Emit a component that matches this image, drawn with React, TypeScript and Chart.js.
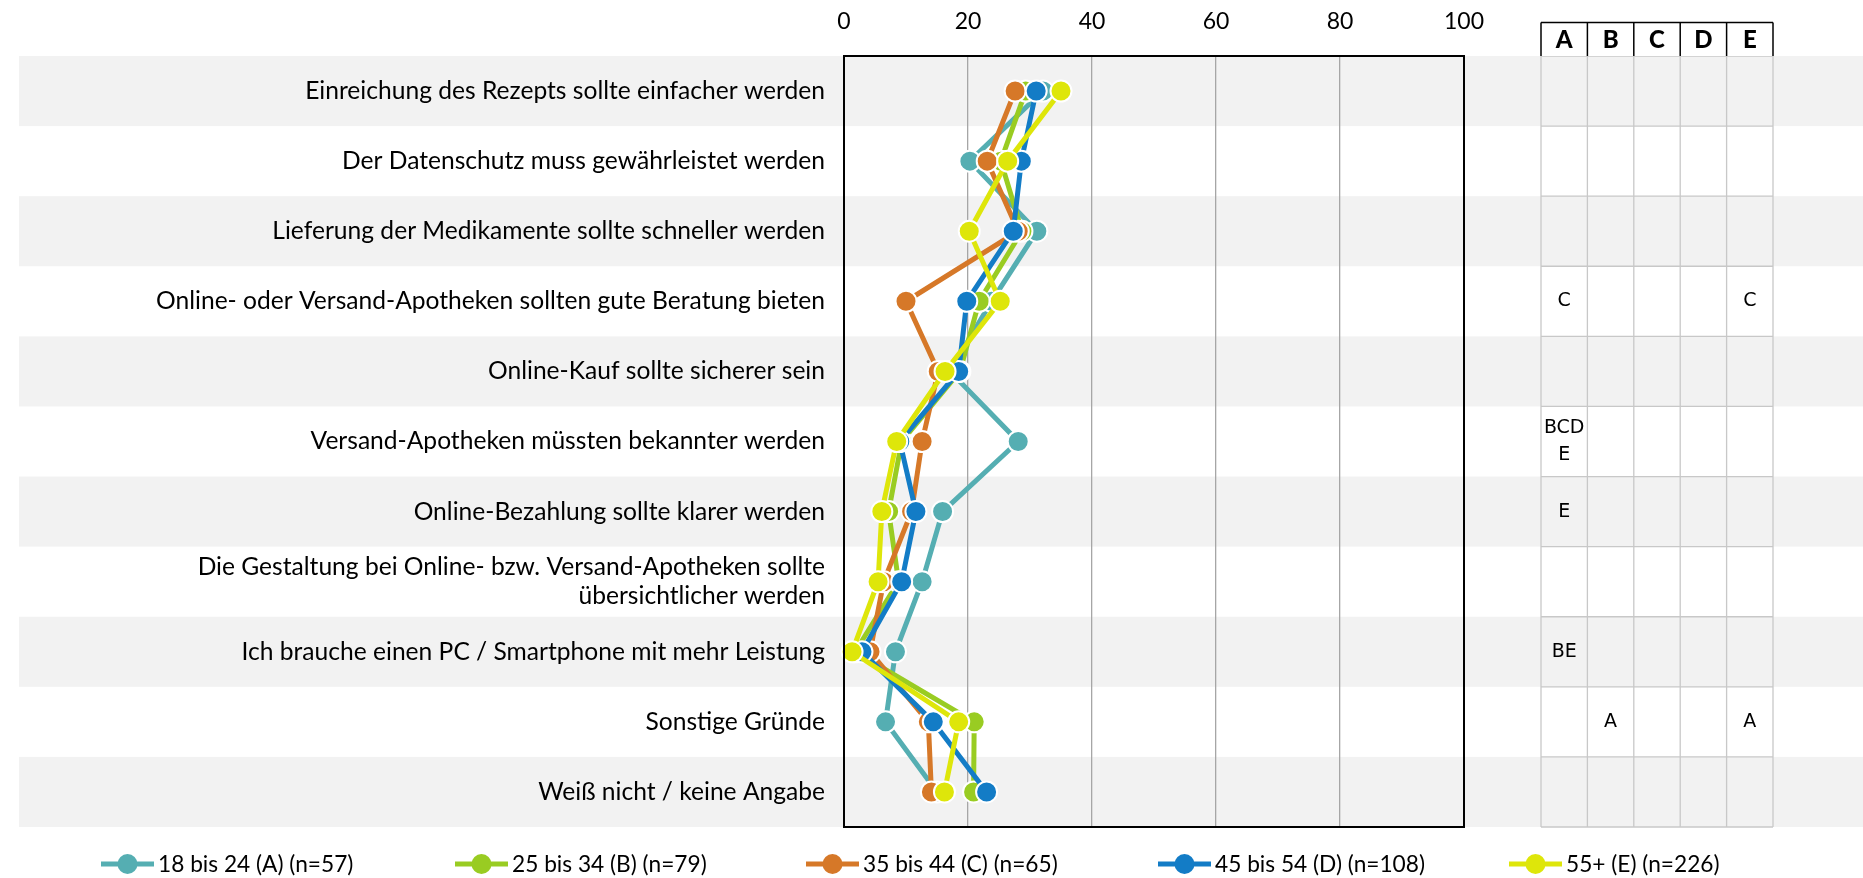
import React, { useEffect, useRef } from 'react';
import { Chart, registerables } from 'chart.js';

Chart.register(...registerables);

const categories: (string | string[])[] = [
  'Einreichung des Rezepts sollte einfacher werden',
  'Der Datenschutz muss gewährleistet werden',
  'Lieferung der Medikamente sollte schneller werden',
  'Online- oder Versand-Apotheken sollten gute Beratung bieten',
  'Online-Kauf sollte sicherer sein',
  'Versand-Apotheken müssten bekannter werden',
  'Online-Bezahlung sollte klarer werden',
  ['Die Gestaltung bei Online- bzw. Versand-Apotheken sollte', 'übersichtlicher werden'],
  'Ich brauche einen PC / Smartphone mit mehr Leistung',
  'Sonstige Gründe',
  'Weiß nicht / keine Angabe',
];

const seriesLabels = [
  '18 bis 24 (A) (n=57)',
  '25 bis 34 (B) (n=79)',
  '35 bis 44 (C) (n=65)',
  '45 bis 54 (D) (n=108)',
  '55+ (E) (n=226)',
];

const valuesA = [32.1, 20.3, 31.1, 23.8, 17.1, 28.1, 15.9, 12.6, 8.3, 6.7, 15.0];
const valuesB = [29.3, 25.3, 28.7, 21.8, 18.7, 9.3, 7.2, 8.8, 1.8, 21.0, 20.9];
const valuesC = [27.6, 23.1, 28.1, 10.0, 15.2, 12.6, 10.9, 6.4, 4.2, 13.6, 14.1];
const valuesD = [31.0, 28.6, 27.3, 19.8, 18.5, 9.0, 11.6, 9.3, 2.9, 14.4, 23.0];
const valuesE = [35.0, 26.4, 20.2, 25.2, 16.3, 8.5, 6.1, 5.5, 1.3, 18.5, 16.2];

const seriesColors = ['#55AEB2', '#99CC22', '#D67828', '#137CC6', '#DEE60A'];

const xTicks = [0, 20, 40, 60, 80, 100];

const tableHeaders = ['A', 'B', 'C', 'D', 'E'];
const tableCells: string[][] = [
  ['', '', '', '', ''],
  ['', '', '', '', ''],
  ['', '', '', '', ''],
  ['C', '', '', '', 'C'],
  ['', '', '', '', ''],
  ['BCDE', '', '', '', ''],
  ['E', '', '', '', ''],
  ['', '', '', '', ''],
  ['BE', '', '', '', ''],
  ['', 'A', '', '', 'A'],
  ['', '', '', '', ''],
];

const W = 1863;
const H = 878;
const LABEL_FONT = "Lato, 'Open Sans', sans-serif";

function wrapChars(ctx: CanvasRenderingContext2D, text: string, maxW: number): string[] {
  const lines: string[] = [];
  let cur = '';
  for (const ch of text) {
    if (ctx.measureText(cur + ch).width > maxW && cur) {
      lines.push(cur);
      cur = ch;
    } else cur += ch;
  }
  if (cur) lines.push(cur);
  return lines;
}

const decorPlugin = {
  id: 'decor',
  beforeDraw(chart: any) {
    const ctx = chart.ctx as CanvasRenderingContext2D;
    const y = chart.scales.y;
    ctx.save();
    ctx.fillStyle = '#ffffff';
    ctx.fillRect(0, 0, W, H);
    const rowH = Math.abs(y.getPixelForValue(1) - y.getPixelForValue(0));
    ctx.fillStyle = '#f2f2f2';
    for (let i = 0; i < categories.length; i += 2) {
      const cy = y.getPixelForValue(i);
      ctx.fillRect(19, cy - rowH / 2, W - 19, rowH);
    }
    ctx.restore();
  },
  afterDraw(chart: any) {
    const ctx = chart.ctx as CanvasRenderingContext2D;
    const a = chart.chartArea;
    const y = chart.scales.y;
    const rowH = Math.abs(y.getPixelForValue(1) - y.getPixelForValue(0));
    ctx.save();
    // plot frame
    ctx.strokeStyle = '#000';
    ctx.lineWidth = 2;
    ctx.strokeRect(a.left, a.top, a.right - a.left, a.bottom - a.top);

    // table
    const tLeft = 1541;
    const colW = 46.4;
    const tTop = a.top;
    const tBottom = a.bottom;
    const hTop = 22.5;
    ctx.strokeStyle = '#c8c8c8';
    ctx.lineWidth = 1.3;
    for (let c = 0; c <= tableHeaders.length; c++) {
      const x = tLeft + c * colW;
      ctx.beginPath();
      ctx.moveTo(x, tTop);
      ctx.lineTo(x, tBottom);
      ctx.stroke();
    }
    for (let r = 0; r <= categories.length; r++) {
      const yy = tTop + r * rowH;
      ctx.beginPath();
      ctx.moveTo(tLeft, yy);
      ctx.lineTo(tLeft + colW * tableHeaders.length, yy);
      ctx.stroke();
    }
    ctx.fillStyle = '#ffffff';
    ctx.fillRect(tLeft, hTop, colW * tableHeaders.length, tTop - hTop);
    ctx.strokeStyle = '#000';
    ctx.lineWidth = 1.5;
    ctx.beginPath();
    ctx.moveTo(tLeft, hTop);
    ctx.lineTo(tLeft + colW * tableHeaders.length, hTop);
    ctx.stroke();
    for (let c = 0; c <= tableHeaders.length; c++) {
      const x = tLeft + c * colW;
      ctx.beginPath();
      ctx.moveTo(x, hTop);
      ctx.lineTo(x, tTop);
      ctx.stroke();
    }
    ctx.fillStyle = '#000';
    ctx.textAlign = 'center';
    ctx.textBaseline = 'middle';
    ctx.font = `900 24px ${LABEL_FONT}`;
    tableHeaders.forEach((h, c) => {
      ctx.fillText(h, tLeft + c * colW + colW / 2, (hTop + tTop) / 2 + 1);
    });
    ctx.font = "19px 'DejaVu Sans', sans-serif";
    tableCells.forEach((row, r) => {
      const cy = y.getPixelForValue(r);
      row.forEach((txt, c) => {
        if (!txt) return;
        const lines = wrapChars(ctx, txt, colW - 3);
        const lh = 27;
        lines.forEach((ln, k) => {
          ctx.fillText(ln, tLeft + c * colW + colW / 2, cy + (k - (lines.length - 1) / 2) * lh);
        });
      });
    });

    // legend
    const legY = 864;
    const legStart = [101, 455, 806, 1158, 1509];
    ctx.font = `22.7px ${LABEL_FONT}`;
    ctx.textAlign = 'left';
    chart.data.datasets.forEach((ds: any, i: number) => {
      const x0 = legStart[i];
      ctx.strokeStyle = ds.borderColor;
      ctx.lineWidth = 5;
      ctx.beginPath();
      ctx.moveTo(x0, legY);
      ctx.lineTo(x0 + 53, legY);
      ctx.stroke();
      ctx.fillStyle = ds.borderColor;
      ctx.beginPath();
      ctx.arc(x0 + 26.5, legY, 10, 0, Math.PI * 2);
      ctx.fill();
      ctx.fillStyle = '#000';
      ctx.fillText(ds.label, x0 + 57, legY + 1);
    });
    ctx.restore();
  },
};

export default function App() {
  const ref = useRef<HTMLCanvasElement | null>(null);
  useEffect(() => {
    document.body.style.margin = '0';
    const canvas = ref.current!;
    const allValues = [valuesA, valuesB, valuesC, valuesD, valuesE];
    const order = [4, 3, 2, 1, 0];
    const chart = new Chart(canvas, {
      type: 'line',
      data: {
        labels: categories as any,
        datasets: allValues.map((vals, i) => ({
          label: seriesLabels[i],
          data: vals,
          borderColor: seriesColors[i],
          backgroundColor: seriesColors[i],
          pointBackgroundColor: seriesColors[i],
          pointBorderColor: '#ffffff',
          pointBorderWidth: 2,
          pointRadius: 10.5,
          borderWidth: 5,
          tension: 0,
          clip: false as any,
          order: order[i],
        })),
      },
      options: {
        indexAxis: 'y',
        responsive: false,
        animation: false,
        layout: { padding: { left: 0, top: 0, right: W - 1464, bottom: H - 827 } },
        plugins: {
          legend: { display: false },
          tooltip: { enabled: false },
        },
        scales: {
          x: {
            type: 'linear',
            position: 'top',
            min: 0,
            max: 100,
            afterBuildTicks: (s: any) => {
              s.ticks = xTicks.map((v) => ({ value: v }));
            },
            afterFit: (s: any) => {
              s.height = 56;
            },
            ticks: {
              color: '#000',
              font: { family: LABEL_FONT, size: 23 },
              padding: 21,
            },
            grid: { color: '#a6a6a6', lineWidth: 1.3, drawTicks: false },
            border: { display: false },
          },
          y: {
            type: 'category',
            offset: true,
            afterFit: (s: any) => {
              s.width = 844;
            },
            ticks: {
              color: '#000',
              font: { family: LABEL_FONT, size: 24.6, lineHeight: 1.17 },
              padding: 19,
              autoSkip: false,
            },
            grid: { display: false, drawTicks: false },
            border: { display: false },
          },
        },
      } as any,
      plugins: [decorPlugin],
    });
    return () => chart.destroy();
  }, []);
  return (
    <div style={{ position: 'absolute', left: 0, top: 0, width: W, height: H, background: '#fff' }}>
      <canvas ref={ref} width={W} height={H} style={{ display: 'block', width: W, height: H }} />
    </div>
  );
}
